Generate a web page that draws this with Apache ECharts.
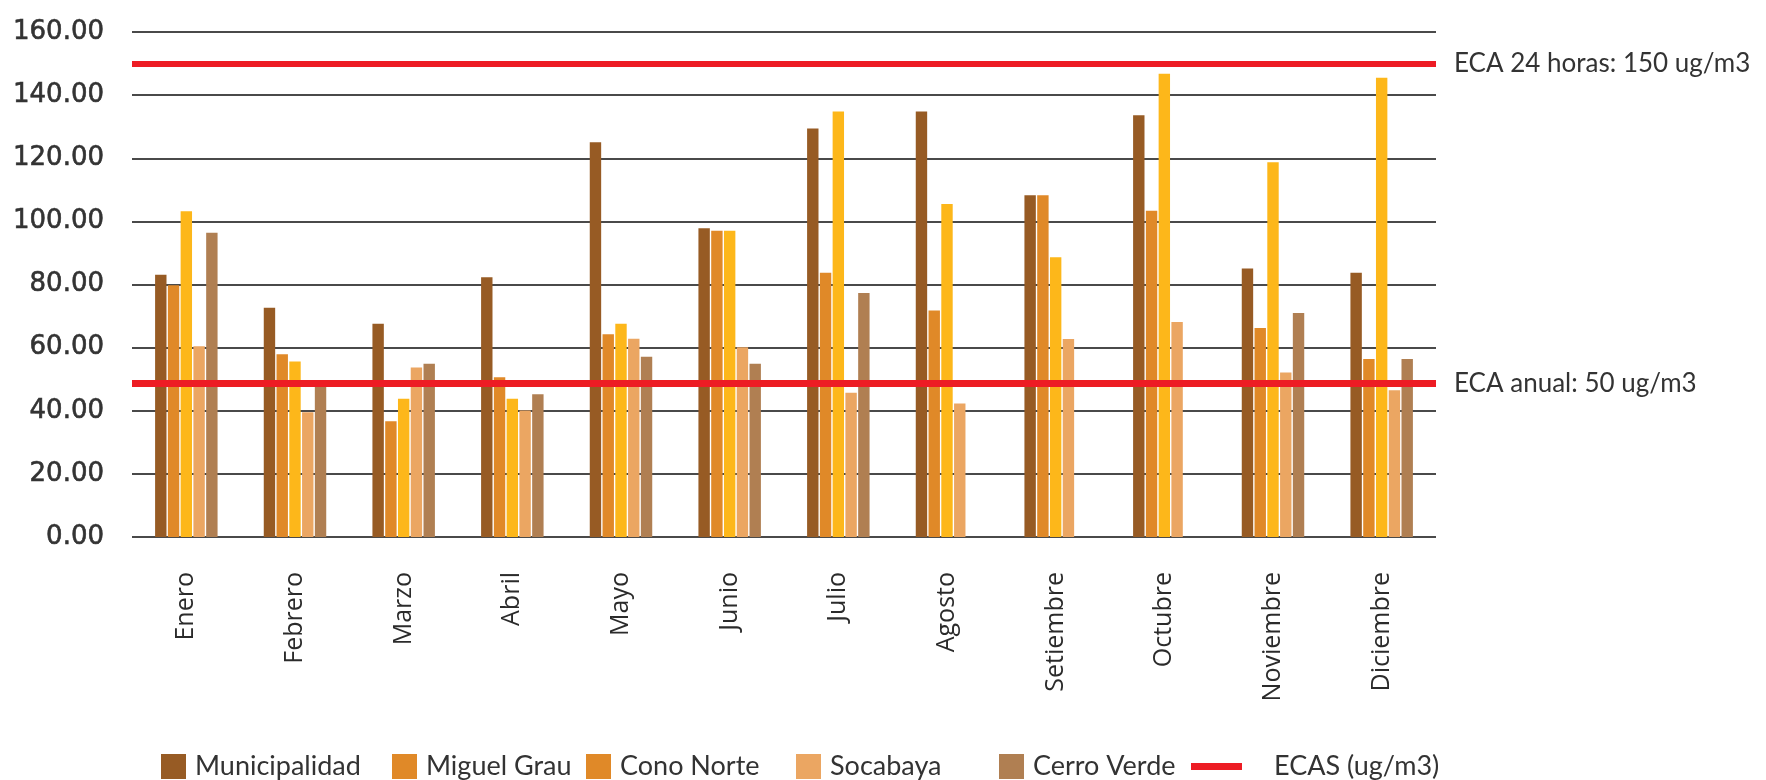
<!DOCTYPE html>
<html>
<head>
<meta charset="utf-8">
<script src="https://cdn.jsdelivr.net/npm/echarts@6/dist/echarts.min.js"></script>
<style>
html,body{margin:0;padding:0;background:#fff;}
#chart{width:1766px;height:780px;}
</style>
</head>
<body>
<div id="chart"></div>
<script>
// ---- data ----
const months = ['Enero','Febrero','Marzo','Abril','Mayo','Junio','Julio','Agosto','Setiembre','Octubre','Noviembre','Diciembre'];
const municipalidad = [83.1, 72.6, 67.6, 82.3, 125.1, 97.8, 129.4, 134.8, 108.3, 133.6, 85.1, 83.7];
const miguelGrau    = [79.8, 57.9, 36.7, 50.6, 64.2, 97.0, 83.7, 71.8, 108.3, 103.4, 66.2, 56.4];
const conoNorte     = [103.2, 55.6, 43.8, 43.8, 67.6, 97.0, 134.8, 105.5, 88.6, 146.8, 118.7, 145.5];
const socabaya      = [60.4, 39.5, 53.7, 40.1, 62.8, 60.1, 45.7, 42.3, 62.7, 68.1, 52.1, 46.5];
const cerroVerde    = [96.4, 47.8, 54.9, 45.2, 57.1, 54.9, 77.3, null, null, null, 71.0, 56.4];
const ecaLevels = [150, 48.7];
const ecaLabels = ['ECA 24 horas: 150 ug/m3', 'ECA anual: 50 ug/m3'];
const yTicks = [0, 20, 40, 60, 80, 100, 120, 140, 160];

const names = ['Municipalidad','Miguel Grau','Cono Norte','Socabaya','Cerro Verde'];
const values = [municipalidad, miguelGrau, conoNorte, socabaya, cerroVerde];
const colors = ['#975B24','#E08928','#FDB71A','#EBA662','#B07F52'];
const legendColors = ['#975B24','#E08928','#E08928','#EBA662','#B07F52'];
const legendLeft = [161, 392, 586, 796, 999];
const RED = '#ED1C24';
const labelFont = 'Lato, "Open Sans", sans-serif';

const chart = echarts.init(document.getElementById('chart'), null, {renderer:'canvas'});

const barSeries = names.map((n, i) => ({
  name: n,
  type: 'bar',
  data: values[i],
  barWidth: 11.4,
  barGap: '12%',
  itemStyle: { color: colors[i] },
  emphasis: { disabled: true }
}));

const ecaSeries = {
  name: 'ECAS (ug/m3)',
  type: 'line',
  data: [],
  color: RED,
  itemStyle: { color: RED },
  lineStyle: { color: RED, width: 6 },
  markLine: {
    silent: true,
    symbol: ['none','none'],
    animation: false,
    data: ecaLevels.map((v, i) => ({
      yAxis: v,
      lineStyle: { color: RED, width: i === 0 ? 6 : 7, type: 'solid' },
      label: { formatter: ecaLabels[i] }
    })),
    label: {
      show: true,
      position: 'end',
      distance: 18,
      color: '#333',
      fontSize: 26,
      fontFamily: labelFont
    }
  }
};

const legendText = { color: '#333', fontSize: 27, fontFamily: labelFont };
const legends = names.map((n, i) => ({
  show: true,
  left: legendLeft[i],
  top: 753,
  padding: 0,
  selectedMode: false,
  icon: 'rect',
  itemWidth: 25,
  itemHeight: 25,
  data: [{ name: n, itemStyle: { color: legendColors[i] } }],
  textStyle: Object.assign({ padding: [0,0,0,4] }, legendText)
}));
legends.push({
  show: true,
  left: 1191,
  top: 753,
  padding: 0,
  selectedMode: false,
  icon: 'rect',
  itemWidth: 51,
  itemHeight: 7,
  data: [{ name: 'ECAS (ug/m3)', itemStyle: { color: RED } }],
  textStyle: Object.assign({ padding: [0,0,0,27] }, legendText)
});

chart.setOption({
  animation: false,
  backgroundColor: '#fff',
  grid: { left: 132, right: 330, top: 32, bottom: 243, containLabel: false },
  legend: legends,
  xAxis: {
    type: 'category',
    data: months,
    axisLine: { show: false },
    axisTick: { show: false },
    axisLabel: {
      rotate: 90,
      margin: 35,
      color: '#2b2b2b',
      fontSize: 25,
      fontFamily: '"Open Sans", sans-serif',
      padding: [0, 0, 12, 0],
      interval: 0
    }
  },
  yAxis: {
    type: 'value',
    min: yTicks[0],
    max: yTicks[yTicks.length - 1],
    interval: yTicks[1] - yTicks[0],
    axisLine: { show: false },
    axisTick: { show: false },
    axisLabel: {
      margin: 28,
      color: '#333',
      fontSize: 26,
      textBorderColor: '#333',
      textBorderWidth: 0.6,
      fontFamily: '"DejaVu Sans", sans-serif',
      formatter: v => v.toFixed(2)
    },
    splitLine: { show: true, lineStyle: { color: '#4a4a4a', width: 2 } }
  },
  series: [...barSeries, ecaSeries]
});
</script>
</body>
</html>
